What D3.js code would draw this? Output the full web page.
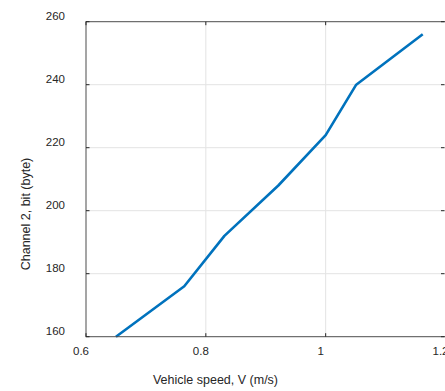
<!DOCTYPE html>
<html>
<head>
<meta charset="utf-8">
<script src="https://cdn.jsdelivr.net/npm/d3@7"></script>
<style>
  body { margin: 0; background: #fff; }
  text { font-family: "Liberation Sans", Arial, sans-serif; fill: #262626; }
</style>
</head>
<body>
<svg id="chart" width="445" height="391"></svg>
<script>
// data
const speed = [0.65, 0.764, 0.831, 0.921, 1.0, 1.051, 1.162];
const bits = [160, 176, 192, 208, 224, 240, 256];
const xTicks = [0.6, 0.8, 1, 1.2];
const yTicks = [160, 180, 200, 220, 240, 260];

const svg = d3.select("#chart");
const plotLeft = 86, plotRight = 445.5, plotTop = 21.7, plotBottom = 336.7;

const x = d3.scaleLinear().domain([0.6, 1.2]).range([plotLeft, plotRight]);
const y = d3.scaleLinear().domain([160, 260]).range([plotBottom, plotTop]);

// grid
svg.append("g").selectAll("line")
  .data(xTicks.slice(1, -1))
  .enter().append("line")
  .attr("x1", d => x(d)).attr("x2", d => x(d))
  .attr("y1", plotTop).attr("y2", plotBottom)
  .attr("stroke", "#e3e3e3").attr("stroke-width", 1);

svg.append("g").selectAll("line")
  .data(yTicks.slice(1, -1))
  .enter().append("line")
  .attr("x1", plotLeft).attr("x2", plotRight)
  .attr("y1", d => y(d)).attr("y2", d => y(d))
  .attr("stroke", "#e3e3e3").attr("stroke-width", 1);

// line
const line = d3.line().x((d, i) => x(speed[i])).y(d => y(d));
svg.append("path")
  .datum(bits)
  .attr("d", line)
  .attr("fill", "none")
  .attr("stroke", "#0072BD")
  .attr("stroke-width", 2.6)
  .attr("stroke-linejoin", "round");

// box
svg.append("rect")
  .attr("x", plotLeft).attr("y", plotTop)
  .attr("width", plotRight - plotLeft).attr("height", plotBottom - plotTop)
  .attr("fill", "none").attr("stroke", "#4d4d4d").attr("stroke-width", 1);

// ticks (inside, both sides)
const tk = 3.5;
xTicks.forEach(d => {
  svg.append("line").attr("x1", x(d)).attr("x2", x(d))
    .attr("y1", plotBottom).attr("y2", plotBottom - tk).attr("stroke", "#262626");
  svg.append("line").attr("x1", x(d)).attr("x2", x(d))
    .attr("y1", plotTop).attr("y2", plotTop + tk).attr("stroke", "#262626");
});
yTicks.forEach(d => {
  svg.append("line").attr("x1", plotLeft).attr("x2", plotLeft + tk)
    .attr("y1", y(d)).attr("y2", y(d)).attr("stroke", "#262626");
  svg.append("line").attr("x1", plotRight - 1).attr("x2", plotRight - 1 - tk)
    .attr("y1", y(d)).attr("y2", y(d)).attr("stroke", "#262626");
});

// tick labels
svg.append("g").selectAll("text")
  .data(xTicks)
  .enter().append("text")
  .attr("x", d => x(d) - 5)
  .attr("y", plotBottom + 18)
  .attr("text-anchor", "middle")
  .attr("font-size", 11.5)
  .text(d => d);

svg.append("g").selectAll("text")
  .data(yTicks)
  .enter().append("text")
  .attr("x", plotLeft - 21)
  .attr("y", d => y(d) - 2)
  .attr("text-anchor", "end")
  .attr("font-size", 11.5)
  .text(d => d);

// axis titles
svg.append("text")
  .attr("x", 215.5).attr("y", 384)
  .attr("text-anchor", "middle")
  .attr("font-size", 12.5)
  .text("Vehicle speed, V (m/s)");

svg.append("text")
  .attr("transform", "translate(29.5,214) rotate(-90)")
  .attr("text-anchor", "middle")
  .attr("font-size", 12.5)
  .text("Channel 2, bit (byte)");
</script>
</body>
</html>
